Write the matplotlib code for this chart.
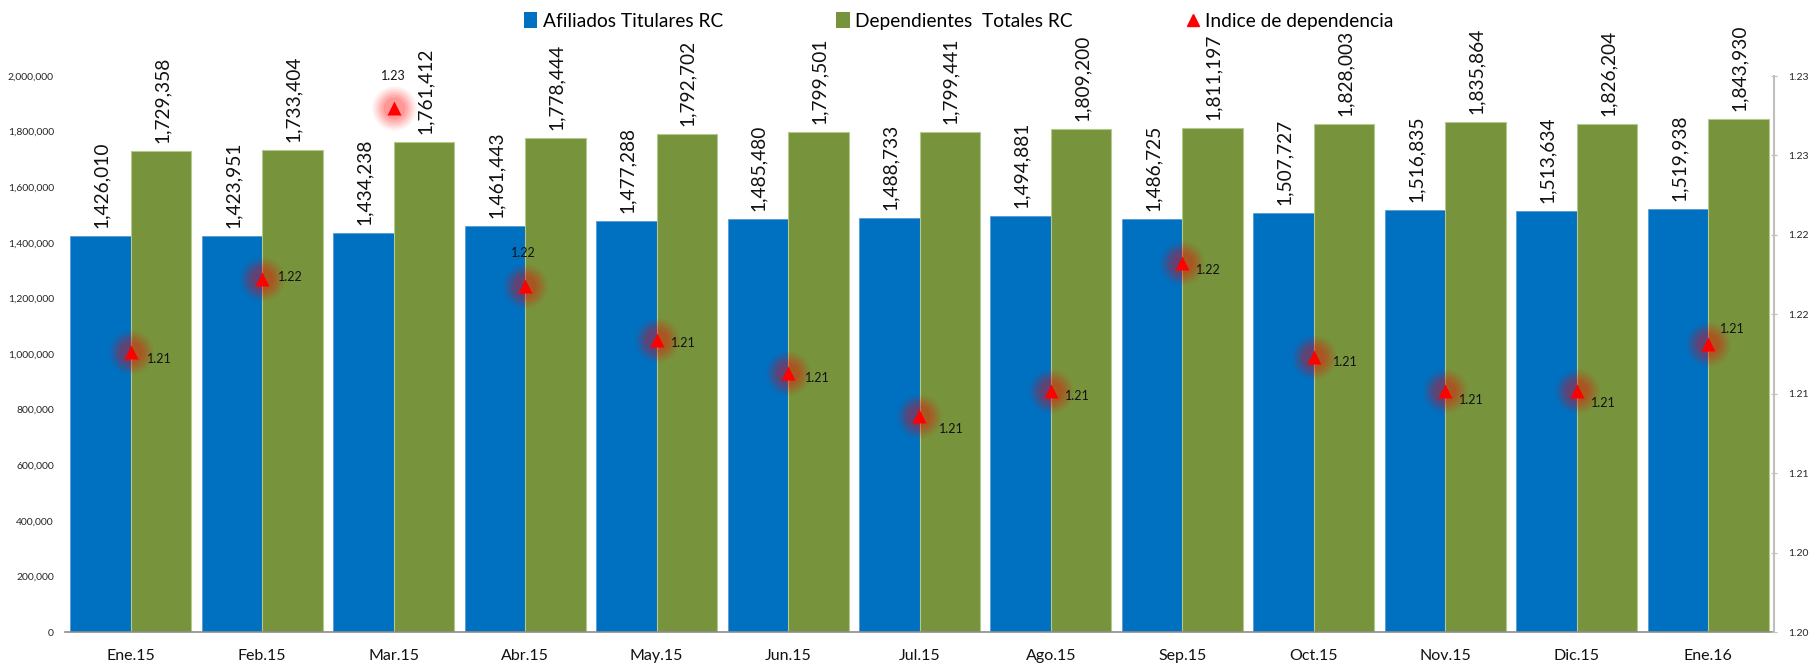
import numpy as np
import matplotlib.pyplot as plt
from matplotlib.patches import Patch
from matplotlib.lines import Line2D

plt.rcParams['font.family'] = ['Lato', 'DejaVu Sans']

meses = ['Ene.15', 'Feb.15', 'Mar.15', 'Abr.15', 'May.15', 'Jun.15', 'Jul.15',
         'Ago.15', 'Sep.15', 'Oct.15', 'Nov.15', 'Dic.15', 'Ene.16']
titulares = [1426010, 1423951, 1434238, 1461443, 1477288, 1485480, 1488733,
             1494881, 1486725, 1507727, 1516835, 1513634, 1519938]
dependientes = [1729358, 1733404, 1761412, 1778444, 1792702, 1799501, 1799441,
                1809200, 1811197, 1828003, 1835864, 1826204, 1843930]
# indice de dependencia
indice = [1.2126, 1.2172, 1.2280, 1.2168, 1.2134, 1.2113, 1.2086,
          1.2102, 1.2182, 1.2123, 1.2102, 1.2102, 1.2131]
ticks_der = [1.195, 1.200, 1.205, 1.210, 1.215, 1.220, 1.225, 1.230]
etiquetas_der = ['1.20', '1.20', '1.21', '1.21', '1.22', '1.22', '1.23', '1.23']

# donde va cada etiqueta del indice respecto al marcador (pixeles)
offsets = [(29, -7), (28, 2), (0, 32), (-2, 33), (27, -3), (29, -5), (32, -13),
           (26, -5), (26, -7), (31, -5), (26, -9), (27, -12), (24, 15)]

azul = '#0070C0'
verde = '#77933C'

fig = plt.figure(figsize=(18.09, 6.63), dpi=100)
ax = fig.add_axes([65/1809, 31/663, 1709/1809, 556/663])
ax2 = ax.twinx()

x = np.arange(len(meses))
w = 0.46
ax.bar(x - w/2, titulares, w, color=azul, edgecolor='#5b9bd5', linewidth=0.6, zorder=2)
ax.bar(x + w/2, dependientes, w, color=verde, edgecolor='#b5c98e', linewidth=0.8, zorder=2)

for i in range(len(meses)):
    ax.annotate('{:,}'.format(titulares[i]), (x[i] - w/2, titulares[i]), xytext=(1, 8),
                textcoords='offset pixels', rotation=90, ha='center', va='bottom',
                fontsize=13.8, color='#111111')
    ax.annotate('{:,}'.format(dependientes[i]), (x[i] + w/2, dependientes[i]), xytext=(1, 8),
                textcoords='offset pixels', rotation=90, ha='center', va='bottom',
                fontsize=13.8, color='#111111')

ax.set_xlim(-0.5, len(meses) - 0.5)
ax.set_ylim(0, 2000000)
ax.set_yticks(np.arange(0, 2000001, 200000))
ax.set_yticklabels(['{:,}'.format(v) for v in range(0, 2000001, 200000)], fontsize=7.5, color='#262626')
ax.set_xticks(x)
ax.set_xticklabels(meses, fontsize=11.5, color='#111111')
ax.tick_params(axis='x', length=0, pad=12)
ax.tick_params(axis='y', length=0, pad=8)
for s in ['top', 'left', 'right']:
    ax.spines[s].set_visible(False)
ax.spines['bottom'].set_color('#8c8c8c')
ax.spines['bottom'].set_linewidth(1.2)

# brillo alrededor de los triangulos
for ms, a in [(32, 0.05), (29, 0.06), (26, 0.07), (23, 0.08), (20, 0.1), (16, 0.12)]:
    ax2.plot(x, indice, 'o', ms=ms, color='red', alpha=a, mec='none', zorder=3)
ax2.plot(x, indice, '^', ms=10, color='red', mec='none', linestyle='none', zorder=4)
for i in range(len(meses)):
    ax2.annotate('{:.2f}'.format(indice[i]), (x[i], indice[i]), xytext=offsets[i],
                 textcoords='offset pixels', ha='center', va='center', fontsize=9,
                 color='#111111', zorder=5)

ax2.set_ylim(1.195, 1.230)
ax2.set_yticks(ticks_der)
ax2.set_yticklabels(etiquetas_der, fontsize=7.5, color='#262626')
ax2.tick_params(axis='y', length=4, direction='inout', color='#bfbfbf', pad=8)
for s in ['top', 'left', 'bottom']:
    ax2.spines[s].set_visible(False)
ax2.spines['right'].set_color('#bfbfbf')
ax2.spines['right'].set_linewidth(1.5)

handles = [Patch(facecolor=azul, edgecolor='none'),
           Patch(facecolor=verde, edgecolor='none'),
           Line2D([], [], marker='^', color='red', linestyle='none', ms=8)]
fig.legend(handles, ['Afiliados Titulares RC', 'Dependientes  Totales RC', 'Indice de dependencia'],
           loc='center', bbox_to_anchor=(0.53, 0.968), ncol=3, frameon=False,
           fontsize=13.8, handlelength=0.7, handleheight=0.9, handletextpad=0.3,
           columnspacing=5.9)

fig.savefig('out.png', dpi=100)
